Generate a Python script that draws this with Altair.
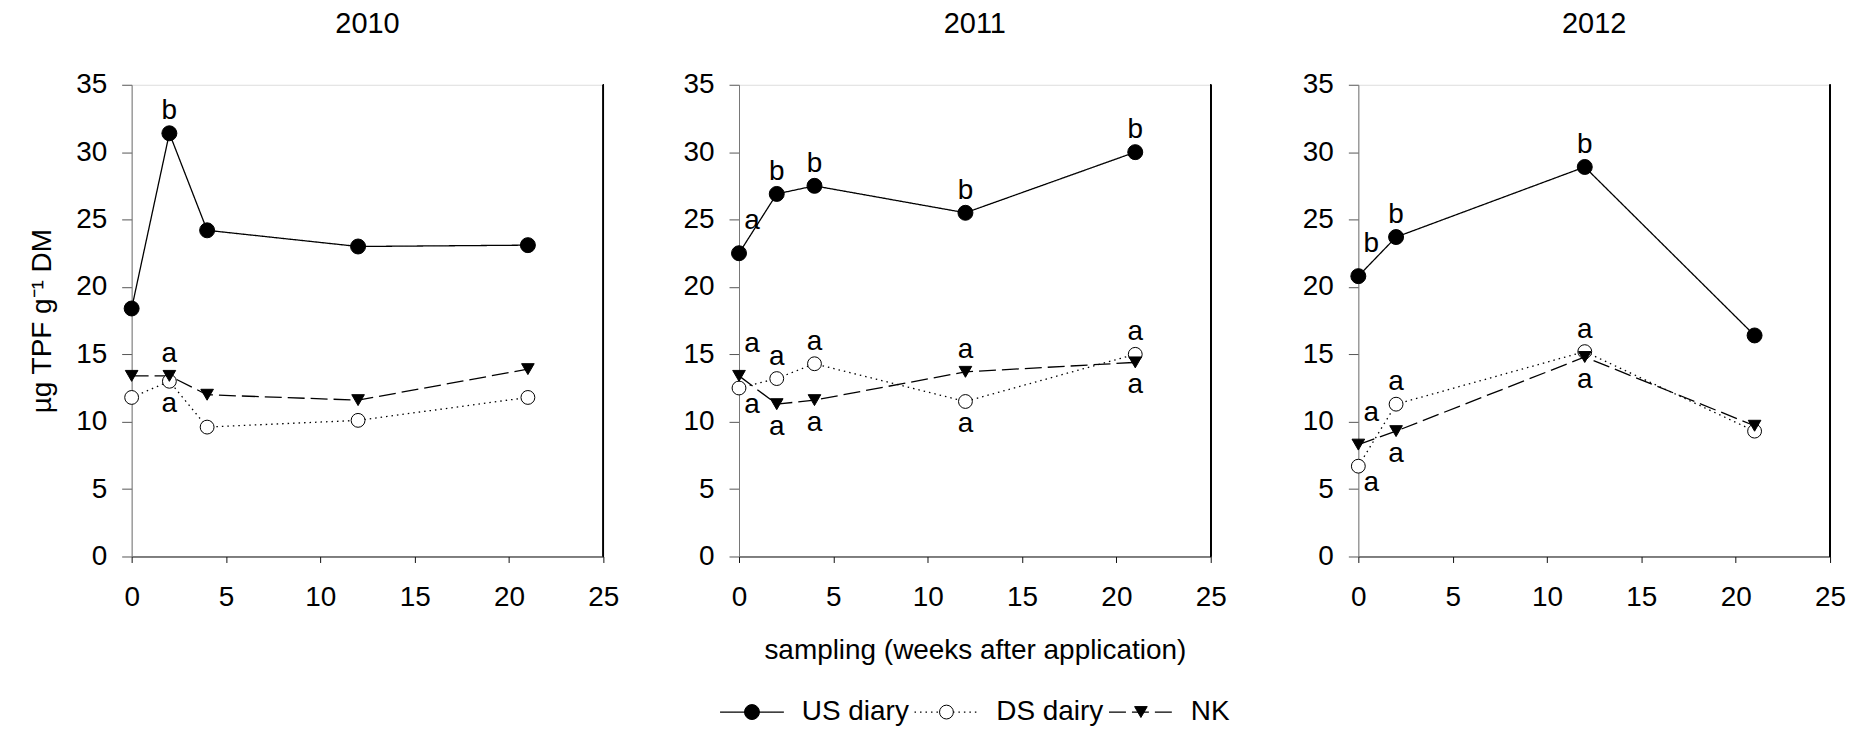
import altair as alt
import pandas as pd

FONT = "Liberation Sans"

years = ["2010", "2011", "2012"]
series = ["US diary", "DS dairy", "NK"]

weeks_2010 = [0, 2, 4, 12, 21]
us_2010 = [18.4, 31.4, 24.2, 23.0, 23.1]
ds_2010 = [11.8, 13.0, 9.6, 10.1, 11.8]
nk_2010 = [13.4, 13.4, 12.0, 11.6, 13.9]

weeks_2011 = [0, 2, 4, 12, 21]
us_2011 = [22.5, 26.9, 27.5, 25.5, 30.0]
ds_2011 = [12.5, 13.2, 14.3, 11.5, 15.0]
nk_2011 = [13.4, 11.3, 11.6, 13.7, 14.4]

weeks_2012 = [0, 2, 12, 21]
us_2012 = [20.8, 23.7, 28.9, 16.4]
ds_2012 = [6.7, 11.3, 15.2, 9.3]
nk_2012 = [8.3, 9.3, 14.8, 9.7]

# significance letters: year, week, series, letter, placement
ann_year = ["2010", "2010", "2010",
            "2011", "2011", "2011", "2011", "2011", "2011", "2011", "2011",
            "2011", "2011", "2011", "2011", "2011", "2011", "2011",
            "2012", "2012", "2012", "2012", "2012", "2012", "2012", "2012", "2012"]
ann_week = [2, 2, 2,
            0, 2, 4, 12, 21, 0, 0, 2,
            2, 4, 4, 12, 12, 21, 21,
            0, 2, 12, 0, 0, 2, 2, 12, 12]
ann_series = ["US diary", "NK", "DS dairy",
              "US diary", "US diary", "US diary", "US diary", "US diary", "NK", "DS dairy", "DS dairy",
              "NK", "DS dairy", "NK", "NK", "DS dairy", "DS dairy", "NK",
              "US diary", "US diary", "US diary", "NK", "DS dairy", "DS dairy", "NK", "DS dairy", "NK"]
ann_letter = ["b", "a", "a",
              "a", "b", "b", "b", "b", "a", "a", "a",
              "a", "a", "a", "a", "a", "a", "a",
              "b", "b", "b", "a", "a", "a", "a", "a", "a"]
ann_place = ["above", "above", "below",
             "above-right", "above", "above", "above", "above", "above-right", "below-right", "above",
             "below", "above", "below", "above", "below", "above", "below",
             "above-right", "above", "above", "above-right", "below-right", "above", "below", "above", "below"]

x_ticks = [0, 5, 10, 15, 20, 25]
y_ticks = [0, 5, 10, 15, 20, 25, 30, 35]

# ---------- tables ----------
rows = []
for yr, wk, us, ds, nk in [("2010", weeks_2010, us_2010, ds_2010, nk_2010),
                           ("2011", weeks_2011, us_2011, ds_2011, nk_2011),
                           ("2012", weeks_2012, us_2012, ds_2012, nk_2012)]:
    for s, vals in zip(series, [us, ds, nk]):
        for w, v in zip(wk, vals):
            rows.append({"year": yr, "series": s, "week": w, "value": v})
df = pd.DataFrame(rows)

ann = pd.DataFrame({"year": ann_year, "week": ann_week, "series": ann_series,
                    "letter": ann_letter, "place": ann_place}).merge(
    df, on=["year", "series", "week"], how="left")

legend_df = pd.DataFrame({"series": series})

W = 473
H = 473

shape_scale = alt.Scale(domain=series, range=["circle", "circle", "triangle-down"])
fill_scale = alt.Scale(domain=series, range=["black", "white", "black"])
size_scale = alt.Scale(domain=series, range=[225, 160, 200])
dash_scale = alt.Scale(domain=series, range=[[1, 0], [1.5, 4], [17, 6]])

places = {
    "above": (0, -22),
    "below": (0, 23),
    "above-right": (13, -32),
    "below-right": (13, 17),
}

AX_COMMON = dict(grid=False, labelFontSize=28, labelFont=FONT, labelColor="black",
                 labelFlush=False, labelOverlap=False)


def panel(year, y_title, x_title, with_legend):
    d = df[df.year == year]
    a = ann[ann.year == year]

    x_kw = dict(values=x_ticks, tickSize=6, labelPadding=21,
                domainColor="#111", tickColor="#111", **AX_COMMON)
    if x_title:
        x_axis = alt.Axis(title=x_title, titleFontSize=28, titleFont=FONT,
                          titleFontWeight="normal", titleColor="black",
                          titlePadding=25, **x_kw)
    else:
        x_axis = alt.Axis(title=None, **x_kw)

    y_kw = dict(values=y_ticks, tickSize=10, labelPadding=15,
                domainColor="#777", tickColor="#555", **AX_COMMON)
    if y_title:
        y_axis = alt.Axis(title=y_title, titleFontSize=28, titleFont=FONT,
                          titleFontWeight="normal", titleColor="black",
                          titlePadding=19, **y_kw)
    else:
        y_axis = alt.Axis(title=None, **y_kw)

    xenc = alt.X("week:Q", scale=alt.Scale(domain=[0, 25], nice=False, zero=False), axis=x_axis)
    yenc = alt.Y("value:Q", scale=alt.Scale(domain=[0, 35], nice=False), axis=y_axis)

    base = alt.Chart(d)
    lines = base.mark_line(color="black", strokeWidth=1.3).encode(
        x=xenc, y=yenc,
        strokeDash=alt.StrokeDash("series:N", scale=dash_scale, legend=None),
        detail="series:N",
        order="week:Q",
    )
    pts = base.mark_point(filled=True, stroke="black", strokeWidth=1, opacity=1).encode(
        x=xenc, y=yenc,
        shape=alt.Shape("series:N", scale=shape_scale, legend=None),
        fill=alt.Fill("series:N", scale=fill_scale, legend=None),
        size=alt.Size("series:N", scale=size_scale, legend=None),
    )
    layers = [lines, pts]
    for p, (dx, dy) in places.items():
        layers.append(
            alt.Chart(a).transform_filter(alt.datum.place == p).mark_text(
                dx=dx, dy=dy, fontSize=28, font=FONT, color="black",
                baseline="middle", align="center"
            ).encode(x=xenc, y=yenc, text="letter:N")
        )
    border = alt.Chart(d).mark_rule(color="black", strokeWidth=1).encode(
        x=alt.value(W), y=alt.value(0), y2=alt.value(H))
    layers.append(border)
    data_layer = alt.layer(*layers)

    if with_legend:
        lx = alt.X("series:N", scale=alt.Scale(type="point", domain=series, range=[13, 403], padding=0),
                   axis=None)
        ly = alt.value(H + 156)
        lb = alt.Chart(legend_df)
        l_rule = lb.mark_rule(color="black", strokeWidth=1.3, xOffset=-32, x2Offset=32).encode(
            x=lx, x2=alt.X2("series"), y=ly,
            strokeDash=alt.StrokeDash("series:N", scale=dash_scale, legend=None),
        )
        l_pts = lb.mark_point(filled=True, stroke="black", strokeWidth=1, opacity=1).encode(
            x=lx, y=ly,
            shape=alt.Shape("series:N", scale=shape_scale, legend=None),
            fill=alt.Fill("series:N", scale=fill_scale, legend=None),
            size=alt.Size("series:N", scale=size_scale, legend=None),
        )
        l_txt = lb.mark_text(align="left", baseline="middle", dx=50, fontSize=28, font=FONT,
                             color="black").encode(x=lx, y=ly, text="series:N")
        legend_layer = alt.layer(l_rule, l_pts, l_txt)
        ch = alt.layer(data_layer, legend_layer).resolve_scale(x="independent")
    else:
        ch = data_layer

    return ch.properties(
        width=W, height=H,
        title=alt.Title(year, frame="group", baseline="alphabetic", offset=9,
                        fontSize=29, font=FONT, fontWeight="normal", color="black",
                        anchor="middle"),
    )


p1 = panel("2010", "µg TPF g⁻¹ DM", None, False)
p2 = panel("2011", None, "sampling (weeks after application)", True)
p3 = panel("2012", None, None, False)

chart = alt.hconcat(
    alt.hconcat(p1, p2, spacing=62),
    p3,
    spacing=71,
).properties(
    padding={"left": 28, "top": 8, "right": 5, "bottom": 5},
).configure_view(stroke="#777", strokeWidth=1).configure(background="white")

chart.save("out.html", embed_options={"renderer": "svg", "actions": False})
